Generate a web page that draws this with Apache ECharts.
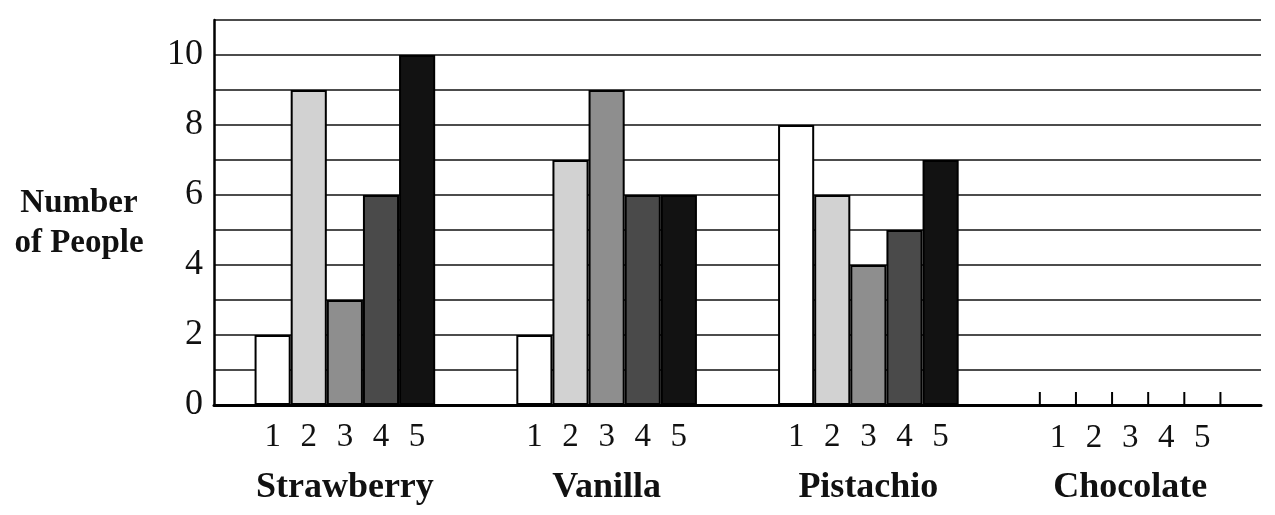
<!DOCTYPE html>
<html>
<head>
<meta charset="utf-8">
<title>Number of People by Flavor</title>
<script src="https://cdn.jsdelivr.net/npm/echarts@6/dist/echarts.min.js"></script>
<style>
  html, body { margin: 0; padding: 0; background: #fff; }
  #chart { width: 1275px; height: 515px; }
</style>
</head>
<body>
<div id="chart"></div>
<script>
// flavors on the x axis, ratings 1..5 as the bars in each group
const flavors = ['Strawberry', 'Vanilla', 'Pistachio', 'Chocolate']
const ratings = ['1', '2', '3', '4', '5']
const rating1 = [2, 2, 8, 0]
const rating2 = [9, 7, 6, 0]
const rating3 = [3, 9, 4, 0]
const rating4 = [6, 6, 5, 0]
const rating5 = [10, 6, 7, 0]
const yTicks = [0, 2, 4, 6, 8, 10]

const values = [rating1, rating2, rating3, rating4, rating5]
const fills = ['#ffffff', '#d2d2d2', '#8e8e8e', '#4a4a4a', '#121212']
const serif = '"Liberation Serif", "Times New Roman", serif'
const catGap = 0.31

const myChart = echarts.init(document.getElementById('chart'))

const barSeries = ratings.map(function(r, i) {
  return {
    name: r,
    type: 'bar',
    barGap: '0%',
    barCategoryGap: (catGap * 100) + '%',
    data: values[i],
    itemStyle: {
      color: fills[i],
      borderColor: '#000',
      borderWidth: 2
    },
    label: {
      show: true,
      position: 'bottom',
      distance: 16,
      formatter: '{a}',
      fontFamily: serif,
      fontSize: 33,
      color: '#111'
    },
    animation: false
  }
})

// groups where every rating is 0 get little tick marks on the axis
const emptyGroups = flavors
  .map(function(f, i) { return i })
  .filter(function(i) { return values.every(function(v) { return v[i] === 0 }) })

const tickSeries = {
  type: 'custom',
  data: emptyGroups.map(function(i) { return [i] }),
  renderItem: function(params, api) {
    const base = api.coord([api.value(0), 0])
    const band = api.size([1, 0])[0]
    const groupW = band * (1 - catGap)
    const w = groupW / ratings.length
    const children = []
    for (let k = 0; k <= ratings.length; k++) {
      const x = base[0] - groupW / 2 + k * w
      children.push({
        type: 'line',
        shape: { x1: x, y1: base[1], x2: x, y2: base[1] - 13 },
        style: { stroke: '#000', lineWidth: 2 }
      })
    }
    return { type: 'group', children: children }
  },
  animation: false
}

const option = {
  backgroundColor: '#fff',
  grid: {
    left: 214,
    right: 14,
    top: 20,
    bottom: 110
  },
  xAxis: {
    type: 'category',
    data: flavors,
    axisLine: { lineStyle: { color: '#000', width: 3 } },
    axisTick: { show: false },
    axisLabel: {
      margin: 65,
      fontFamily: serif,
      fontSize: 36,
      fontWeight: 'bold',
      color: '#111'
    }
  },
  yAxis: {
    type: 'value',
    min: 0,
    max: 11,
    interval: 1,
    axisLine: { show: true, lineStyle: { color: '#000', width: 2.5 } },
    axisTick: { show: false },
    axisLabel: {
      margin: 11,
      fontFamily: serif,
      fontSize: 36,
      color: '#111',
      formatter: function(v) {
        return yTicks.indexOf(v) >= 0 ? String(v) : ''
      }
    },
    splitLine: { show: true, lineStyle: { color: '#111', width: 1.5 } }
  },
  graphic: [{
    type: 'text',
    x: 79,
    y: 223,
    style: {
      text: 'Number\nof People',
      font: 'bold 33px ' + serif,
      fill: '#111',
      align: 'center',
      verticalAlign: 'middle',
      lineHeight: 40
    }
  }],
  series: barSeries.concat([tickSeries])
}

myChart.setOption(option)
</script>
</body>
</html>
